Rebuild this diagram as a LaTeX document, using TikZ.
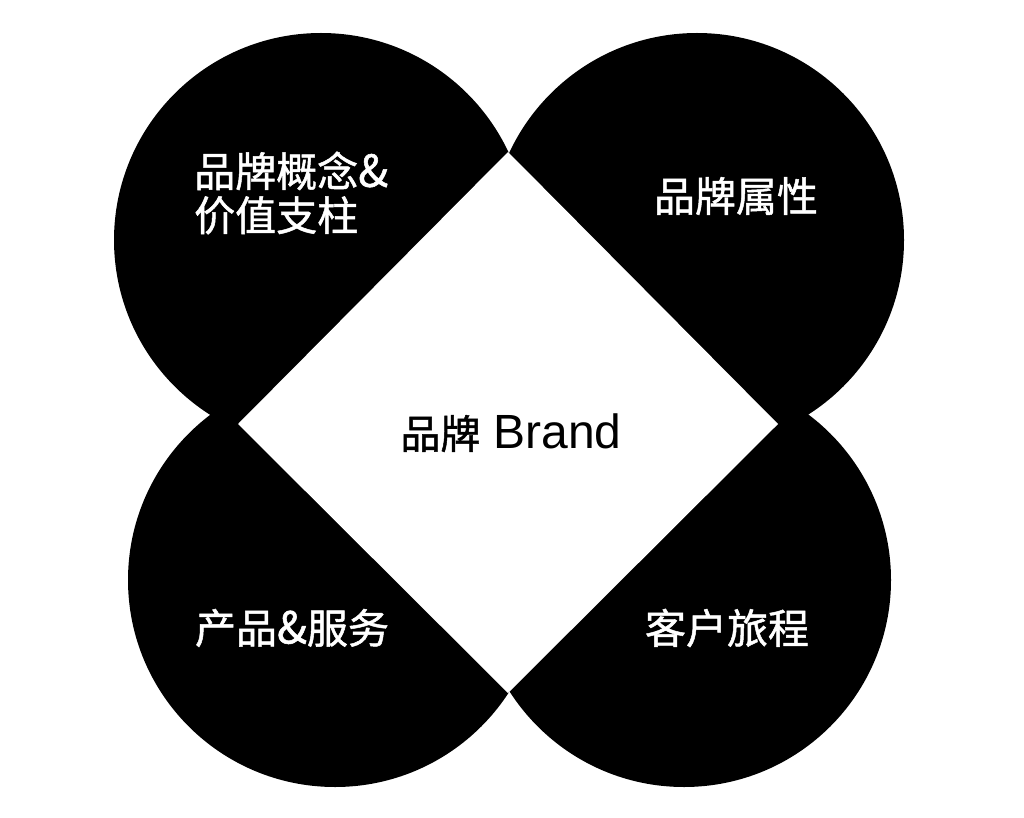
\documentclass[tikz,border=0pt]{standalone}
\usepackage{fontspec}
\newfontfamily\cjk[FakeBold=1.2]{Noto Sans CJK SC}
\newfontfamily\latin{Liberation Sans}
\begin{document}
\begin{tikzpicture}[x=1pt,y=-1pt,
  petal/.style={fill=black,draw=none},
  hole/.style={fill=white,draw=none},
  lbl/.style={text=white,font=\cjk\fontsize{41}{44}\selectfont,inner sep=0pt}]
\useasboundingbox[fill=white] (0,0) rectangle (1024,818);
% petals
\fill[petal] (321,240) circle[radius=207pt];
\fill[petal] (697,240) circle[radius=207pt];
\fill[petal] (335,580) circle[radius=207pt];
\fill[petal] (684,580) circle[radius=207pt];
% central diamond
\coordinate (dt) at (508,152);
\coordinate (dr) at (778,424);
\coordinate (db) at (508,693);
\coordinate (dl) at (238,424);
\fill[hole] (dt) -- (dr) -- (db) -- (dl) -- cycle;
% labels
\node[lbl,align=left,anchor=west] (tl) at (194,193) {品牌概念{\fontsize{44}{44}\selectfont\&}\\价值支柱};
\node[lbl] (tr) at (736,196) {品牌属性};
\node[lbl] (bl) at (292,628) {产品{\fontsize{44}{44}\selectfont\&}服务};
\node[lbl] (br) at (727,628) {客户旅程};
\node[inner sep=0pt] (brand) at (511,433) {{\cjk\fontsize{40}{40}\selectfont 品牌}\hspace{13pt}{\latin\fontsize{48}{50}\selectfont Brand}};
\end{tikzpicture}
\end{document}
